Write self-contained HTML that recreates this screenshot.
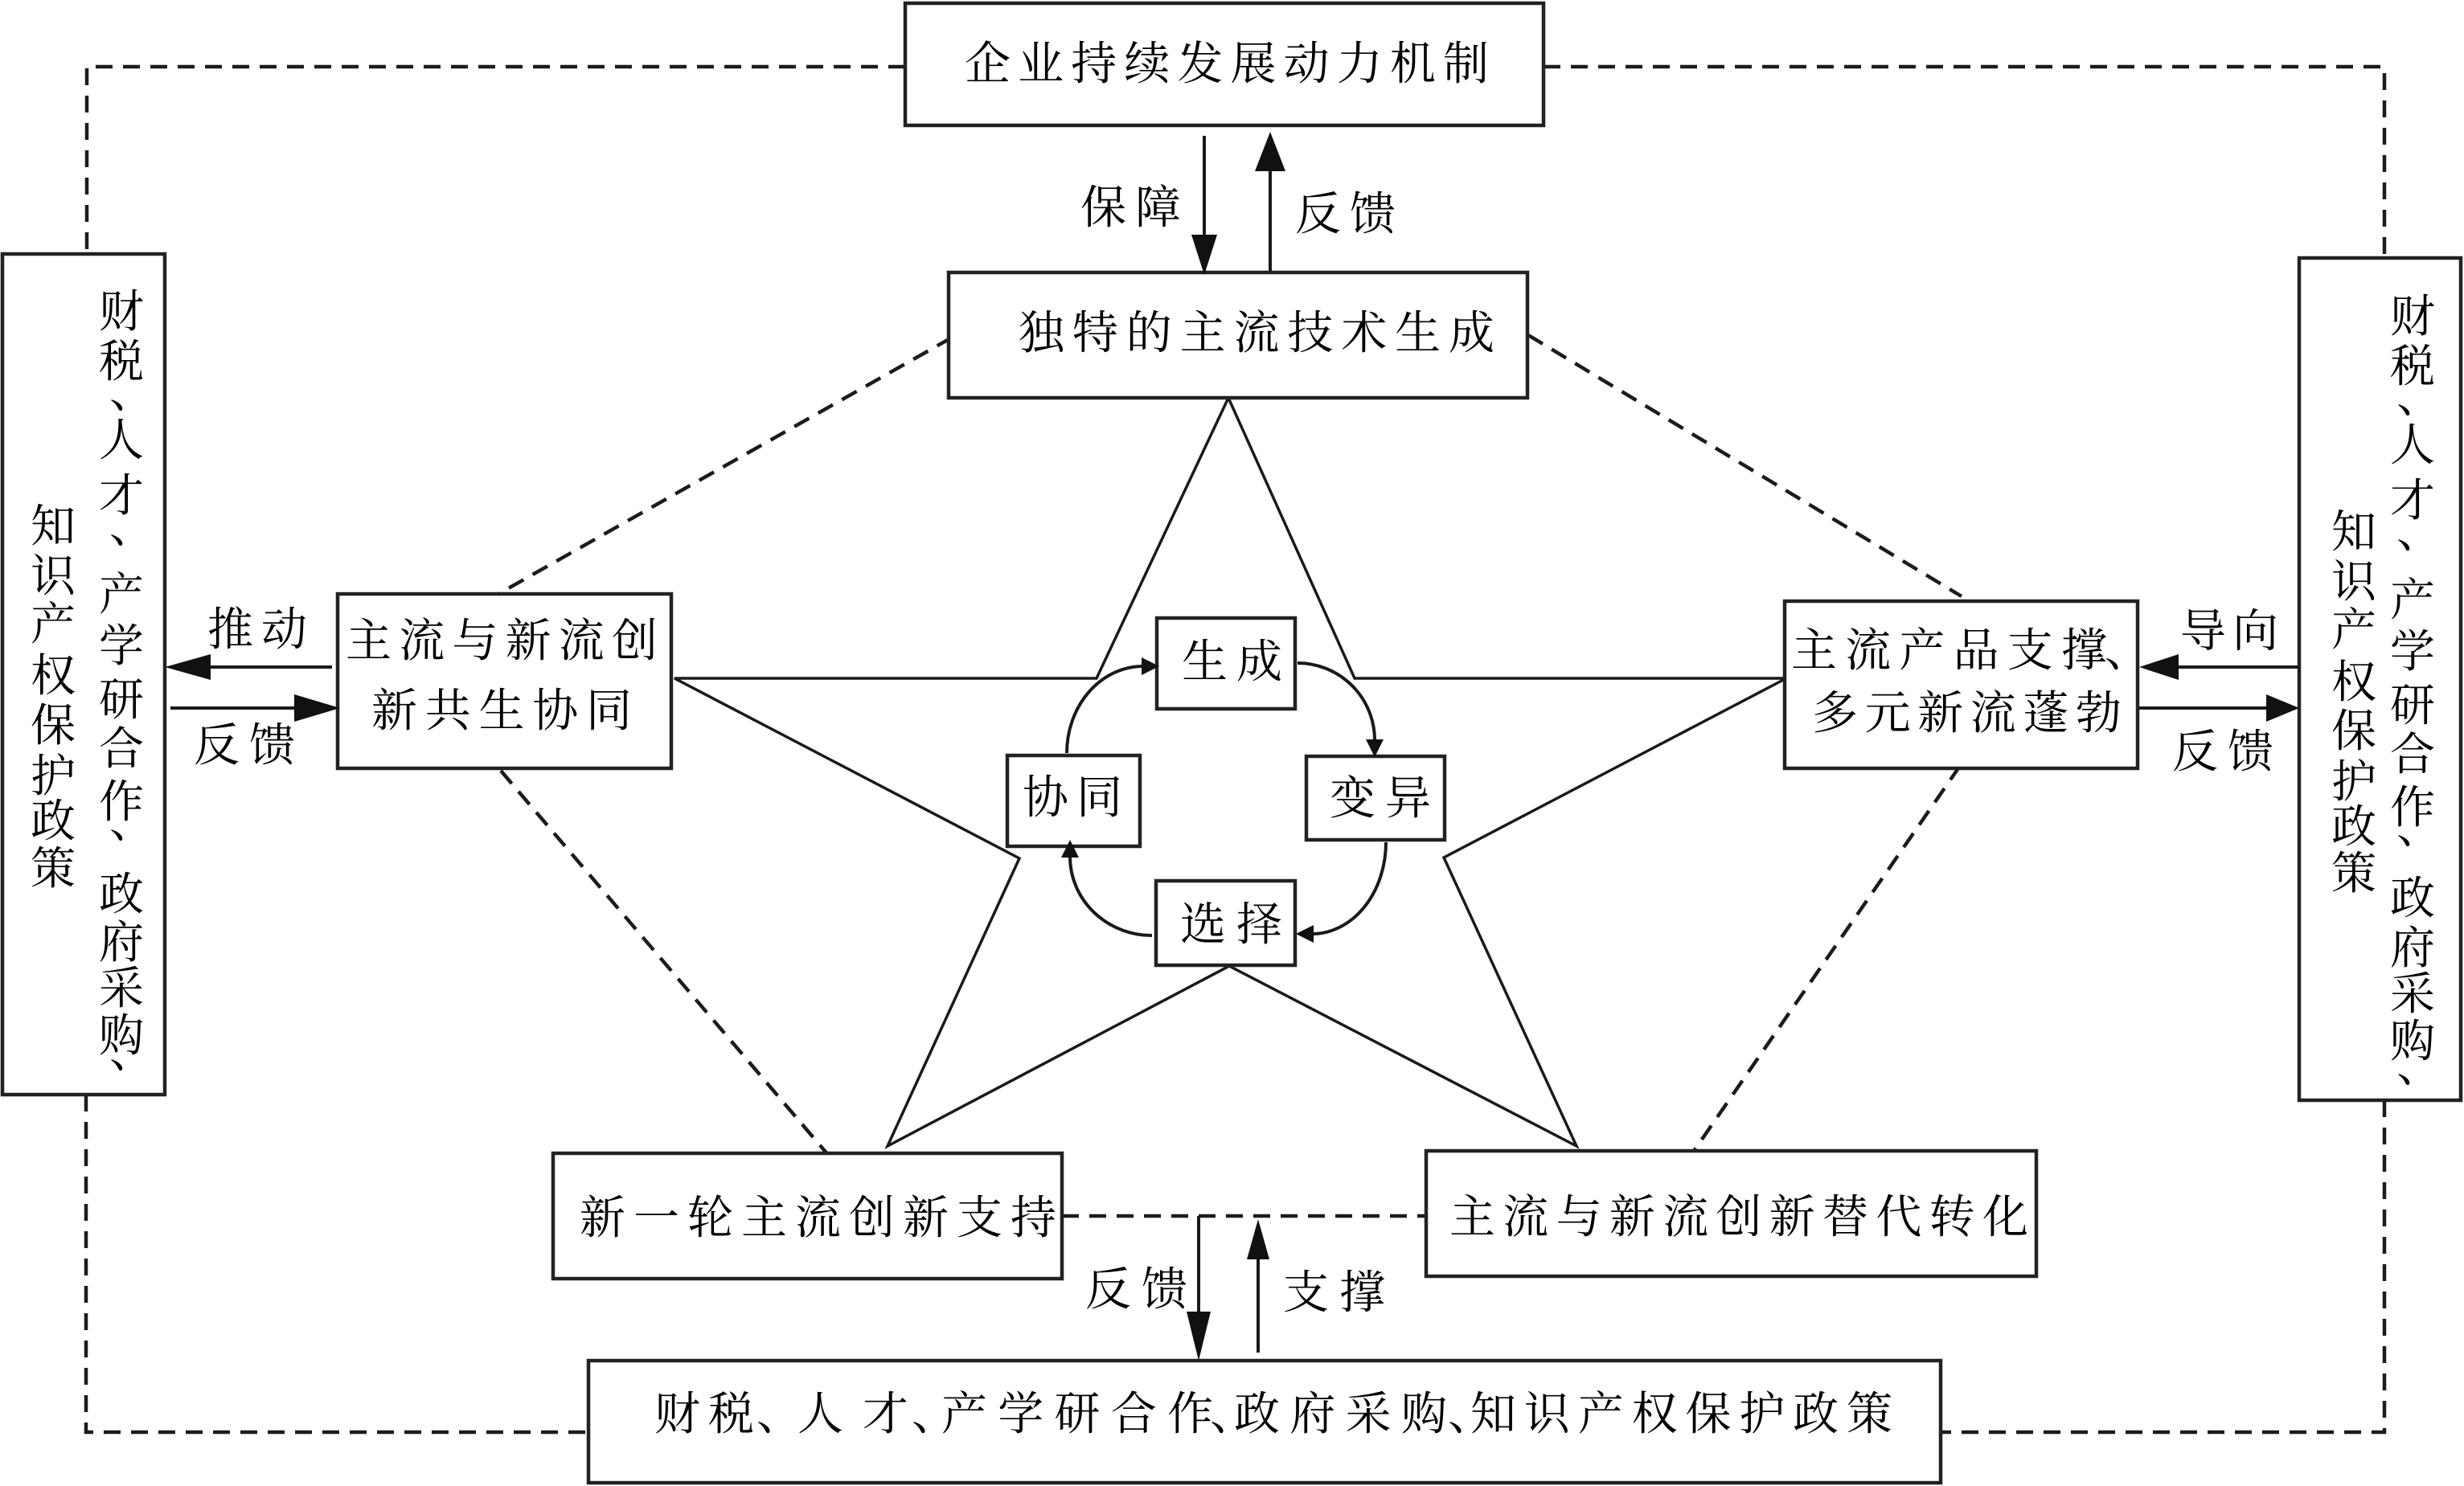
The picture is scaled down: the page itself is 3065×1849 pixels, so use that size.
<!DOCTYPE html>
<html><head><meta charset="utf-8">
<style>
html,body{margin:0;padding:0;background:#fff;}
svg{display:block;}
.t{font-family:"Liberation Serif","Noto Serif CJK SC","Noto Sans CJK SC",serif;font-size:57px;dominant-baseline:central;fill:#000;}
.v{font-family:"Liberation Serif","Noto Serif CJK SC","Noto Sans CJK SC",serif;font-size:56px;dominant-baseline:central;fill:#000;text-anchor:middle;}
.p{font-family:"Liberation Serif","Noto Serif CJK SC","Noto Sans CJK SC",serif;font-size:56px;dominant-baseline:central;fill:#000;}
</style></head>
<body>
<svg width="3065" height="1849" viewBox="0 0 3065 1849" xmlns="http://www.w3.org/2000/svg">
<rect x="0" y="0" width="3065" height="1849" fill="#fff"/>

<!-- dashed connectors -->
<g fill="none" stroke="#1c1c1c" stroke-width="4.5" stroke-dasharray="21 13">
  <path d="M1126,83 H108 V316"/>
  <path d="M1920,83 H2966 V321"/>
  <path d="M107,1362 V1782 H732"/>
  <path d="M2966,1369 V1782 H2414"/>
  <path d="M1321,1513 H1774"/>
  <path d="M1184,420 L620,739"/>
  <path d="M1901,417 L2440,742"/>
  <path d="M623,959 L1031,1438"/>
  <path d="M2438,953 L2105,1435"/>
</g>

<!-- star -->
<polygon points="1528,495 1685,844 2222,844 1796,1067 1961,1426 1529,1202 1104,1426 1268,1068 839,844 1364,844" fill="none" stroke="#1a1a1a" stroke-width="3.5" stroke-linejoin="miter"/>

<!-- boxes -->
<g fill="#fff" stroke="#222" stroke-width="4.5">
  <rect x="1126" y="4" width="794" height="152"/>
  <rect x="1180" y="339" width="720" height="156"/>
  <rect x="420" y="739" width="415" height="217"/>
  <rect x="2220" y="748" width="439" height="208"/>
  <rect x="3" y="316" width="202" height="1046"/>
  <rect x="2860" y="321" width="201" height="1048"/>
  <rect x="688" y="1435" width="633" height="156"/>
  <rect x="1774" y="1432" width="759" height="156"/>
  <rect x="732" y="1693" width="1682" height="152"/>
  <rect x="1439" y="769" width="172" height="113"/>
  <rect x="1253" y="940" width="165" height="113"/>
  <rect x="1625" y="941" width="172" height="104"/>
  <rect x="1438" y="1096" width="173" height="105"/>
</g>

<!-- straight arrows -->
<g stroke="#1a1a1a" stroke-width="4" fill="none">
  <line x1="413" y1="830" x2="255" y2="830"/>
  <line x1="212" y1="881" x2="372" y2="881"/>
  <line x1="2860" y1="830" x2="2705" y2="830"/>
  <line x1="2660" y1="881" x2="2825" y2="881"/>
  <line x1="1498" y1="169" x2="1498" y2="298"/>
  <line x1="1580" y1="338" x2="1580" y2="208"/>
  <line x1="1491" y1="1513" x2="1491" y2="1638"/>
  <line x1="1565" y1="1683" x2="1565" y2="1562"/>
</g>
<g fill="#111">
  <polygon points="205,830 262,814 262,846"/>
  <polygon points="423,881 366,864 366,898"/>
  <polygon points="2661,830 2710,814 2710,846"/>
  <polygon points="2860,881 2819,864 2819,898"/>
  <polygon points="1498,342 1482,292 1514,292"/>
  <polygon points="1580,164 1561,213 1599,213"/>
  <polygon points="1491,1693 1476,1632 1506,1632"/>
  <polygon points="1565,1517 1551,1567 1579,1567"/>
</g>

<!-- cycle curves -->
<g fill="none" stroke="#1a1a1a" stroke-width="4">
  <path d="M1327,937 A95,108 0 0 1 1422,829"/>
  <path d="M1614,825 A96,96 0 0 1 1710,921"/>
  <path d="M1724,1048 A92,114 0 0 1 1632,1162"/>
  <path d="M1433,1164 A102,98 0 0 1 1331,1066"/>
</g>
<g fill="#111">
  <polygon points="1442,829 1420,818 1420,840"/>
  <polygon points="1710,942 1699,920 1721,920"/>
  <polygon points="1612,1162 1634,1151 1634,1173"/>
  <polygon points="1331,1045 1320,1067 1342,1067"/>
</g>

<!-- horizontal texts -->
<text class="t" x="1200" y="80" textLength="652" lengthAdjust="spacing">企业持续发展动力机制</text>
<text class="t" x="1344" y="259" textLength="125" lengthAdjust="spacing">保障</text>
<text class="t" x="1611" y="267" textLength="125" lengthAdjust="spacing">反馈</text>
<text class="t" x="1267" y="415" textLength="592" lengthAdjust="spacing">独特的主流技术生成</text>

<text class="t" x="430" y="798" textLength="388" lengthAdjust="spacing">主流与新流创</text>
<text class="t" x="462" y="885" textLength="324" lengthAdjust="spacing">新共生协同</text>
<text class="t" x="258" y="784" textLength="124" lengthAdjust="spacing">推动</text>
<text class="t" x="241" y="928" textLength="126" lengthAdjust="spacing">反馈</text>

<text class="t" x="2228" y="810" textLength="393" lengthAdjust="spacing">主流产品支撑</text>
<text class="t" x="2618" y="810">、</text>
<text class="t" x="2254" y="888" textLength="385" lengthAdjust="spacing">多元新流蓬勃</text>
<text class="t" x="2712" y="786" textLength="122" lengthAdjust="spacing">导向</text>
<text class="t" x="2702" y="936" textLength="126" lengthAdjust="spacing">反馈</text>

<text class="t" x="1470" y="824" textLength="125" lengthAdjust="spacing">生成</text>
<text class="t" x="1272" y="993" textLength="124" lengthAdjust="spacing">协同</text>
<text class="t" x="1654" y="994" textLength="126" lengthAdjust="spacing">变异</text>
<text class="t" x="1468" y="1151" textLength="127" lengthAdjust="spacing">选择</text>

<text class="t" x="721" y="1516" textLength="593" lengthAdjust="spacing">新一轮主流创新支持</text>
<text class="t" x="1350" y="1605" textLength="127" lengthAdjust="spacing">反馈</text>
<text class="t" x="1596" y="1609" textLength="127" lengthAdjust="spacing">支撑</text>
<text class="t" x="1803" y="1515" textLength="720" lengthAdjust="spacing">主流与新流创新替代转化</text>

<text class="t" x="814" y="1760" textLength="124" lengthAdjust="spacing">财税</text>
<text class="t" x="941" y="1760">、</text>
<text class="t" x="992" y="1760" textLength="138" lengthAdjust="spacing">人才</text>
<text class="t" x="1134" y="1760">、</text>
<text class="t" x="1171" y="1760" textLength="338" lengthAdjust="spacing">产学研合作</text>
<text class="t" x="1505" y="1760">、</text>
<text class="t" x="1535" y="1760" textLength="265" lengthAdjust="spacing">政府采购</text>
<text class="t" x="1801" y="1760">、</text>
<text class="t" x="1829" y="1760" textLength="525" lengthAdjust="spacing">知识产权保护政策</text>

<!-- left vertical column A -->
<text class="v" x="151" y="389">财</text>
<text class="v" x="151" y="451">税</text>
<text class="p" x="136" y="489">、</text>
<text class="v" x="151" y="549">人</text>
<text class="v" x="151" y="618">才</text>
<text class="p" x="136" y="657">、</text>
<text class="v" x="151" y="741">产</text>
<text class="v" x="151" y="805">学</text>
<text class="v" x="151" y="872">研</text>
<text class="v" x="151" y="933">合</text>
<text class="v" x="151" y="999">作</text>
<text class="p" x="136" y="1024">、</text>
<text class="v" x="151" y="1114">政</text>
<text class="v" x="151" y="1174">府</text>
<text class="v" x="151" y="1231">采</text>
<text class="v" x="151" y="1290">购</text>
<text class="p" x="136" y="1310">、</text>
<!-- left vertical column B -->
<text class="v" x="66" y="656">知</text>
<text class="v" x="66" y="718">识</text>
<text class="v" x="66" y="778">产</text>
<text class="v" x="66" y="842">权</text>
<text class="v" x="66" y="904">保</text>
<text class="v" x="66" y="967">护</text>
<text class="v" x="66" y="1023">政</text>
<text class="v" x="66" y="1082">策</text>

<!-- right vertical column A -->
<text class="v" x="3001" y="395">财</text>
<text class="v" x="3001" y="457">税</text>
<text class="p" x="2981" y="495">、</text>
<text class="v" x="3001" y="555">人</text>
<text class="v" x="3001" y="624">才</text>
<text class="p" x="2981" y="663">、</text>
<text class="v" x="3001" y="748">产</text>
<text class="v" x="3001" y="812">学</text>
<text class="v" x="3001" y="879">研</text>
<text class="v" x="3001" y="940">合</text>
<text class="v" x="3001" y="1006">作</text>
<text class="p" x="2981" y="1031">、</text>
<text class="v" x="3001" y="1119">政</text>
<text class="v" x="3001" y="1181">府</text>
<text class="v" x="3001" y="1238">采</text>
<text class="v" x="3001" y="1297">购</text>
<text class="p" x="2981" y="1328">、</text>
<!-- right vertical column B -->
<text class="v" x="2928" y="663">知</text>
<text class="v" x="2928" y="725">识</text>
<text class="v" x="2928" y="785">产</text>
<text class="v" x="2928" y="850">权</text>
<text class="v" x="2928" y="911">保</text>
<text class="v" x="2928" y="974">护</text>
<text class="v" x="2928" y="1030">政</text>
<text class="v" x="2928" y="1088">策</text>
</svg>
</body></html>
